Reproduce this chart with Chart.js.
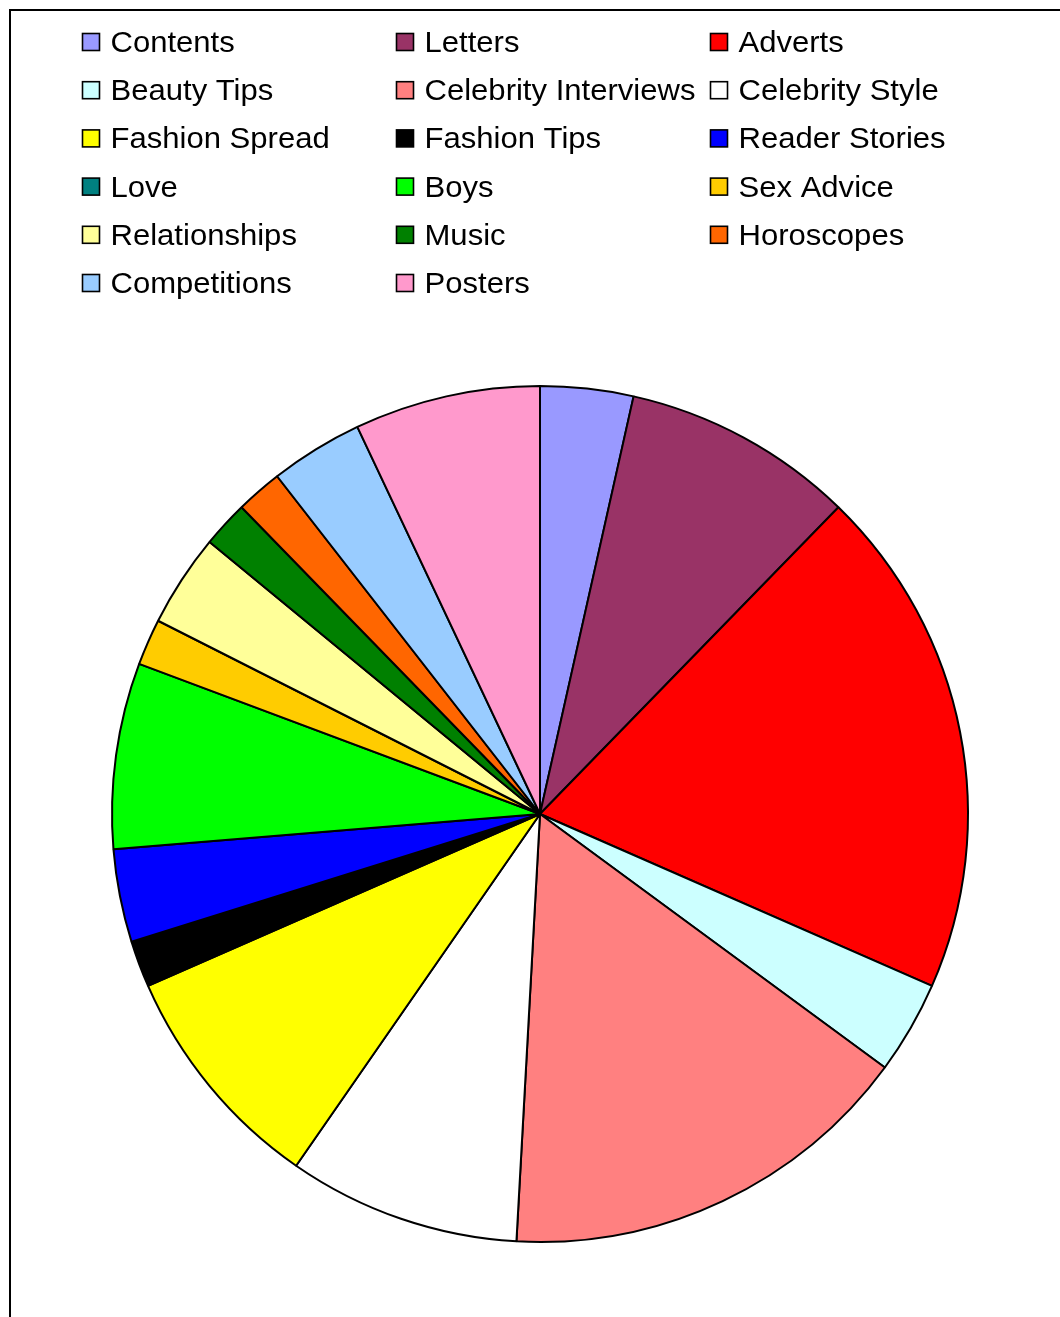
<!DOCTYPE html>
<html>
<head>
<meta charset="utf-8">
<style>
  html, body { margin: 0; padding: 0; background: #ffffff; }
  #wrap { width: 1060px; height: 1317px; position: relative; }
</style>
<script src="https://cdn.jsdelivr.net/npm/chart.js@4/dist/chart.umd.min.js"></script>
</head>
<body>
<div id="wrap"><canvas id="c" width="1060" height="1317"></canvas></div>
<script>
// Magazine content sections and the number of items of each
const categories = [
  'Contents', 'Letters', 'Adverts',
  'Beauty Tips', 'Celebrity Interviews', 'Celebrity Style',
  'Fashion Spread', 'Fashion Tips', 'Reader Stories',
  'Love', 'Boys', 'Sex Advice',
  'Relationships', 'Music', 'Horoscopes',
  'Competitions', 'Posters'
];
const counts = [2, 5, 11, 2, 9, 5, 5, 1, 2, 0, 4, 1, 2, 1, 1, 2, 4];
const sliceColors = [
  '#9999FF', '#993366', '#FF0000',
  '#CCFFFF', '#FF8080', '#FFFFFF',
  '#FFFF00', '#000000', '#0000FF',
  '#008080', '#00FF00', '#FFCC00',
  '#FFFF99', '#008000', '#FF6600',
  '#99CCFF', '#FF99CC'
];

// Outer frame: top and left rules
const framePlugin = {
  id: 'frame',
  beforeDraw(chart) {
    const ctx = chart.ctx;
    ctx.save();
    ctx.fillStyle = '#ffffff';
    ctx.fillRect(0, 0, chart.width, chart.height);
    ctx.strokeStyle = '#000000';
    ctx.lineWidth = 2;
    ctx.beginPath();
    ctx.moveTo(10, chart.height);
    ctx.lineTo(10, 10);
    ctx.lineTo(chart.width, 10);
    ctx.stroke();
    ctx.restore();
  }
};

// Three-column legend laid out on a fixed grid
const gridLegend = {
  id: 'gridLegend',
  afterDraw(chart) {
    const ctx = chart.ctx;
    const labels = chart.data.labels;
    const colors = chart.data.datasets[0].backgroundColor;
    const colX = [82, 396, 710];
    const rowH = 48.2;
    const firstBaseline = 52;
    const stretch = 1.035;
    ctx.save();
    ctx.font = '30px "Liberation Sans", Arial, sans-serif';
    ctx.textBaseline = 'alphabetic';
    ctx.textAlign = 'left';
    labels.forEach((label, i) => {
      const col = i % 3;
      const row = Math.floor(i / 3);
      const x = colX[col];
      const base = firstBaseline + row * rowH;
      ctx.fillStyle = colors[i];
      ctx.fillRect(x + 0.5, base - 18.5, 17, 17);
      ctx.strokeStyle = '#000000';
      ctx.lineWidth = 1.6;
      ctx.strokeRect(x + 0.5, base - 18.5, 17, 17);
      ctx.fillStyle = '#000000';
      ctx.save();
      ctx.translate(x + 28.5, base);
      ctx.scale(stretch, 1);
      ctx.fillText(label, 0, 0);
      ctx.restore();
    });
    ctx.restore();
  }
};

new Chart(document.getElementById('c'), {
  type: 'pie',
  data: {
    labels: categories,
    datasets: [{
      data: counts,
      backgroundColor: sliceColors,
      borderColor: '#000000',
      borderWidth: 2,
      hoverOffset: 0
    }]
  },
  options: {
    responsive: false,
    animation: false,
    devicePixelRatio: 1,
    layout: { padding: { left: 111, right: 91, top: 385, bottom: 74 } },
    plugins: {
      legend: { display: false },
      tooltip: { enabled: false }
    }
  },
  plugins: [framePlugin, gridLegend]
});
</script>
</body>
</html>
